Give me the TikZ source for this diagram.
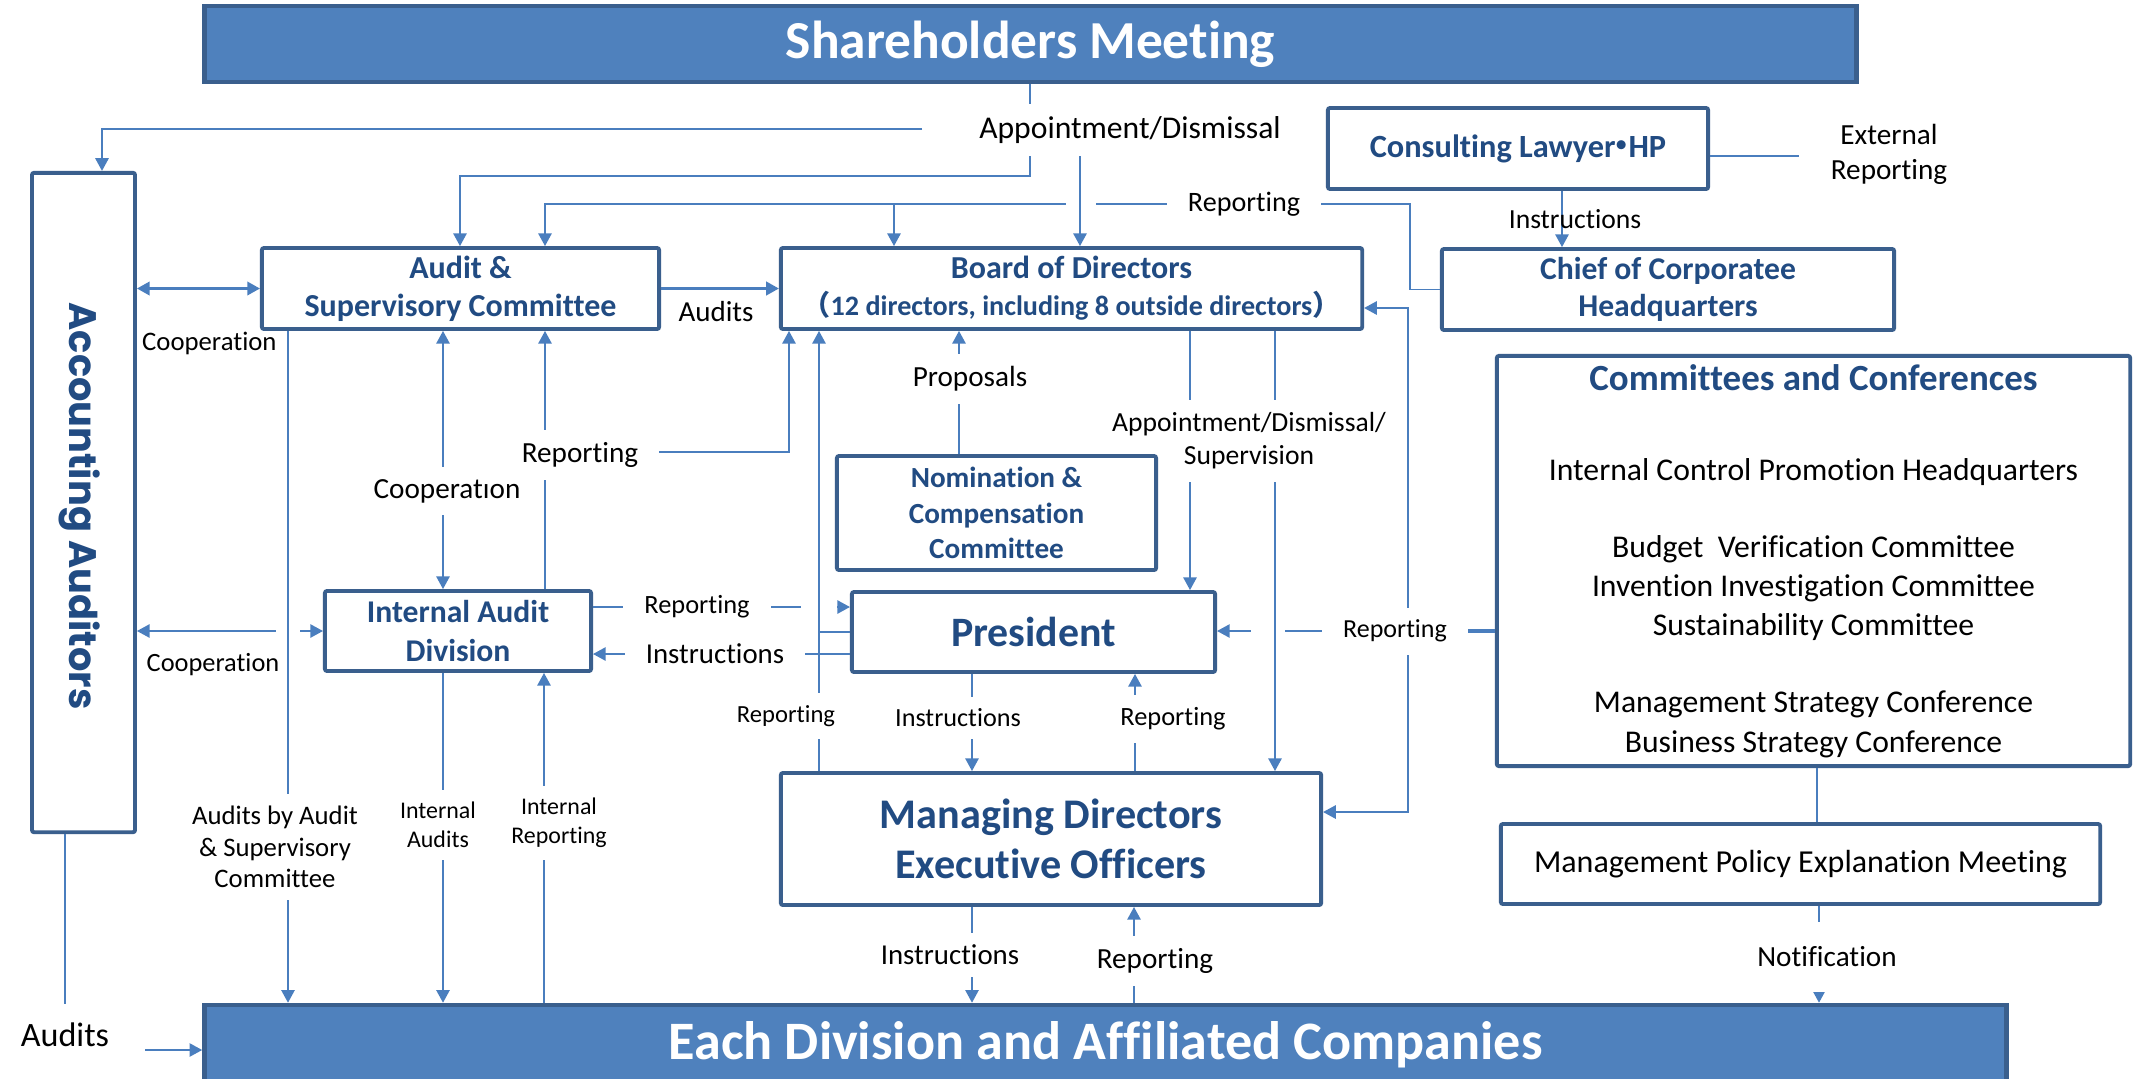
\documentclass[tikz,border=0pt]{standalone}
\usepackage{fontspec}
\setmainfont{Carlito}[Ligatures=NoCommon]
\newfontfamily\gothicfont{Poppins}
\newfontfamily\cjkfont{Noto Sans CJK JP}
\usepackage{xcolor}
\usepackage{tikz}
\usetikzlibrary{positioning, arrows.meta, calc}

\definecolor{bandblue}{RGB}{79,129,189}
\definecolor{frameblue}{RGB}{58,95,141}
\definecolor{linkblue}{RGB}{74,126,190}
\definecolor{titleblue}{RGB}{33,75,130}

\newcommand{\fz}[2]{\fontsize{#1}{#2}\selectfont}
\newcommand{\hop}[2]{\fill[white] ($(#1)+(-#2,-6)$) rectangle ($(#1)+(#2,6)$);}

\begin{document}
\begin{tikzpicture}[
    x=0.01cm, y=-0.01cm,
    unit/.style={rectangle, draw=frameblue, line width=1.1pt, fill=white, rounded corners=0.6pt, align=center, text=titleblue, inner sep=0pt},
    band/.style={rectangle, draw=frameblue, line width=1.3pt, fill=bandblue, text=white, inner sep=0pt},
    link/.style={draw=linkblue, line width=0.45pt},
    arr/.style={link, -{Triangle[length=3.6pt, width=3.8pt]}},
    biarr/.style={link, {Triangle[length=3.6pt, width=3.8pt]}-{Triangle[length=3.6pt, width=3.8pt]}},
    lbl/.style={fill=white, inner xsep=6pt, inner ysep=3.5pt, align=center},
    txt/.style={inner sep=1pt, align=center}
]
    \path[use as bounding box, fill=white] (0,0) rectangle (2133,1078);

    \node[band, minimum width=16.51cm, minimum height=0.76cm, font=\bfseries\fz{15.2}{18}] (share) at (1030.5,44) {Shareholders Meeting};
    \node[unit, minimum width=1.03cm, minimum height=6.59cm] (acc) at (83.5,502.5) {};
    \node[rotate=-90, text=titleblue, font=\gothicfont\bfseries\fz{10.9}{13}] (acctxt) at (80,506) {Accounting Auditors};
    \node[unit, minimum width=3.97cm, minimum height=0.81cm, font=\bfseries\fz{9.1}{10.8}] (asc) at (460.5,288.5) {Audit \&\\Supervisory Committee};
    \node[unit, minimum width=5.81cm, minimum height=0.81cm, font=\bfseries\fz{9.1}{10.5}] (board) at (1071.5,288.5) {Board of Directors\\{\fz{8}{10.5}{\cjkfont （}12 directors, including 8 outside directors{\cjkfont ）}}};
    \node[unit, minimum width=3.8cm, minimum height=0.81cm, font=\bfseries\fz{9.2}{11}] (lawyer) at (1518,148.5) {Consulting Lawyer\kern-0.3em{\cjkfont ・}\kern-0.3em HP};
    \node[unit, minimum width=4.52cm, minimum height=0.81cm, font=\bfseries\fz{9}{10.5}] (chief) at (1668,289.5) {Chief of Corporatee\\Headquarters};
    \node[unit, minimum width=6.33cm, minimum height=4.1cm, text=black, font=\fz{9}{11.1}] (comm) at (1813.5,561) {{\bfseries\color{titleblue}\fz{10.5}{12.6}Committees and Conferences}\\[14.6pt] Internal Control Promotion Headquarters\\[10.8pt] Budget\ \ Verification Committee\\ Invention Investigation Committee\\ Sustainability Committee\\[10.8pt] Management Strategy Conference\\ Business Strategy Conference};
    \node[unit, minimum width=5.99cm, minimum height=0.8cm, text=black, font=\fz{9.1}{11}] (mpem) at (1800.5,864) {Management Policy Explanation Meeting};
    \node[unit, minimum width=3.63cm, minimum height=0.8cm, font=\bfseries\fz{11.9}{14}] (pres) at (1033.5,632) {President};
    \node[unit, minimum width=2.66cm, minimum height=0.8cm, font=\bfseries\fz{9}{11}] (iad) at (458,631) {Internal Audit\\Division};
    \node[unit, minimum width=5.4cm, minimum height=1.32cm, font=\bfseries\fz{12}{14.2}] (mdeo) at (1051,839) {Managing Directors\\Executive Officers};
    \node[band, minimum width=18.01cm, minimum height=0.8cm, font=\bfseries\fz{15.4}{18}] (div) at (1105.5,1045) {Each Division and Affiliated Companies};

    \coordinate (apj) at (1030,129);
    \coordinate (apw) at (922,129);
    \draw[link] (share.south -| apj) -- (apj);
    \draw[arr] (apw) -| (acc.north -| 102,0);
    \draw[arr] (apj) -- ++(0,47) -| (asc.north -| 460,0);

    \coordinate (chj) at (1410,204);
    \draw[arr] (chief.west) -| (chj) -| (asc.north -| 545,0);
    \draw[arr] (chj -| 894,0) -- (board.north -| 894,0);
    \hop{1081,204}{15}
    \draw[arr] (apj -| 1080,0) -- (board.north -| 1080,0);

    \draw[arr] (lawyer.south -| 1562,0) -- (chief.north -| 1562,0);
    \coordinate (extl) at (1799,156);
    \draw[link] (lawyer.east |- extl) -- (extl);

    \draw[biarr, line width=0.75pt] (acc.east |- asc.west) -- (asc.west);
    \draw[arr, line width=0.75pt] (asc.east) -- (board.west);
    \draw[biarr] (asc.south -| 443,0) -- (iad.north -| 443,0);
    \draw[arr] (iad.north -| 545,0) -- (asc.south -| 545,0);
    \coordinate (iaj) at (545,452);
    \draw[arr] (iaj) -| (board.south -| 789,0);

    \draw[arr] (iad.east |- 0,607) -- (pres.west |- 0,607);
    \draw[arr] (pres.west |- 0,654) -- (iad.east |- 0,654);
    \hop{819,607}{18}
    \draw[arr] (mdeo.north -| 819,0) -- (board.south -| 819,0);
    \draw[link] (pres.west) -- (pres.west -| 819,0);

    \draw[arr] (board.south -| 1190,0) -- (pres.north -| 1190,0);

    \coordinate (cmj) at (1408,631);
    \draw[link, line width=1.1pt] (comm.west |- cmj) -- (cmj);
    \draw[arr] (cmj) -- (pres.east |- cmj);
    \draw[arr] (cmj) |- (board.east |- 0,308);
    \draw[arr] (cmj) |- (mdeo.east |- 0,812);
    \hop{1268,631}{17}
    \draw[arr] (board.south -| 1275,0) -- (mdeo.north -| 1275,0);

    \draw[arr] (pres.south -| 972,0) -- (mdeo.north -| 972,0);
    \draw[arr] (mdeo.north -| 1135,0) -- (pres.south -| 1135,0);
    \draw[arr] (mdeo.south -| 972,0) -- (div.north -| 972,0);
    \draw[arr] (div.north -| 1134,0) -- (mdeo.south -| 1134,0);

    \draw[link] (comm.south -| 1817,0) -- (mpem.north -| 1817,0);
    \draw[arr] (mpem.south -| 1819,0) -- (div.north -| 1819,0);
    \draw[biarr] (acc.east |- iad.west) -- (iad.west);
    \hop{288,631}{12}
    \draw[arr] (asc.south -| 288,0) -- (div.north -| 288,0);
    \draw[arr] (iad.south -| 443,0) -- (div.north -| 443,0);
    \draw[arr] (div.north -| 544,0) -- (iad.south -| 544,0);
    \draw[arr] (acc.south -| 65,0) |- (div.west |- 0,1050);

    \node[lbl, font=\fz{9}{10.8}] (apl) at (1130,130) {Appointment/Dismissal};
    \node[lbl, font=\fz{8}{9.6}] (chrep) at (1244,204) {Reporting};
    \node[txt, font=\fz{7.85}{9.4}] (lwins) at (1575,219) {Instructions};
    \node[txt, font=\fz{8.3}{10}] (extrep) at (1889,154) {External\\Reporting};
    \node[txt, anchor=west, font=\fz{7.6}{9}] (coopa) at (138,343) {Cooperation};
    \node[txt, font=\fz{8.25}{9.9}] (audl) at (716,312) {Audits};
    \node[lbl, font=\fz{8.3}{10}] (coopb) at (447,491) {Cooperatıon};
    \node[lbl, font=\fz{8.3}{10}] (iadrep) at (580,455) {Reporting};
    \node[lbl, font=\fz{7.5}{9}] (iprep) at (697,607) {Reporting};
    \node[lbl, font=\fz{8.2}{9.8}] (piins) at (715,654) {Instructions};
    \node[txt, font=\fz{7.5}{9}] (coopc) at (213,665) {Cooperation};
    \node[lbl, font=\fz{7}{8.4}] (mbrep) at (786,716) {Reporting};
    \node[lbl, font=\fz{7.85}{9.4}] (apsup) at (1249,441) {Appointment/Dismissal/\\Supervision};
    \node[lbl, font=\fz{7.4}{8.9}] (cmrep) at (1395,631) {Reporting};
    \node[lbl, font=\fz{7.45}{9}] (pmins) at (958,718) {Instructions};
    \node[lbl, font=\fz{7.5}{9}] (mprep) at (1173,719) {Reporting};
    \node[lbl, font=\fz{8.2}{9.8}] (mdins) at (950,955) {Instructions};
    \node[lbl, font=\fz{8.3}{10}] (dmrep) at (1155,961) {Reporting};
    \node[lbl, inner ysep=7pt, font=\fz{8.3}{10}] (notif) at (1827,957) {Notification};
    \node[lbl, font=\fz{7.6}{9}] (ascaud) at (275,847) {Audits by Audit\\\& Supervisory\\Committee};
    \node[lbl, font=\fz{6.8}{8.2}] (intaud) at (438,825) {Internal\\Audits};
    \node[lbl, font=\fz{6.8}{8.2}] (intrep) at (559,823) {Internal\\Reporting};
    \node[lbl, minimum width=1.6cm, minimum height=0.62cm, font=\fz{9.7}{11.6}] (accaud) at (65,1035) {Audits};

    \node[unit, minimum width=3.19cm, minimum height=1.14cm, font=\bfseries\fz{8.3}{10}] (nom) at (996.5,513) {Nomination \&\\Compensation\\Committee};
    \draw[arr] (nom.north -| 959,0) -- (board.south -| 959,0);
    \node[lbl, font=\fz{8.3}{10}] (prop) at (970,379) {Proposals};
\end{tikzpicture}
\end{document}
